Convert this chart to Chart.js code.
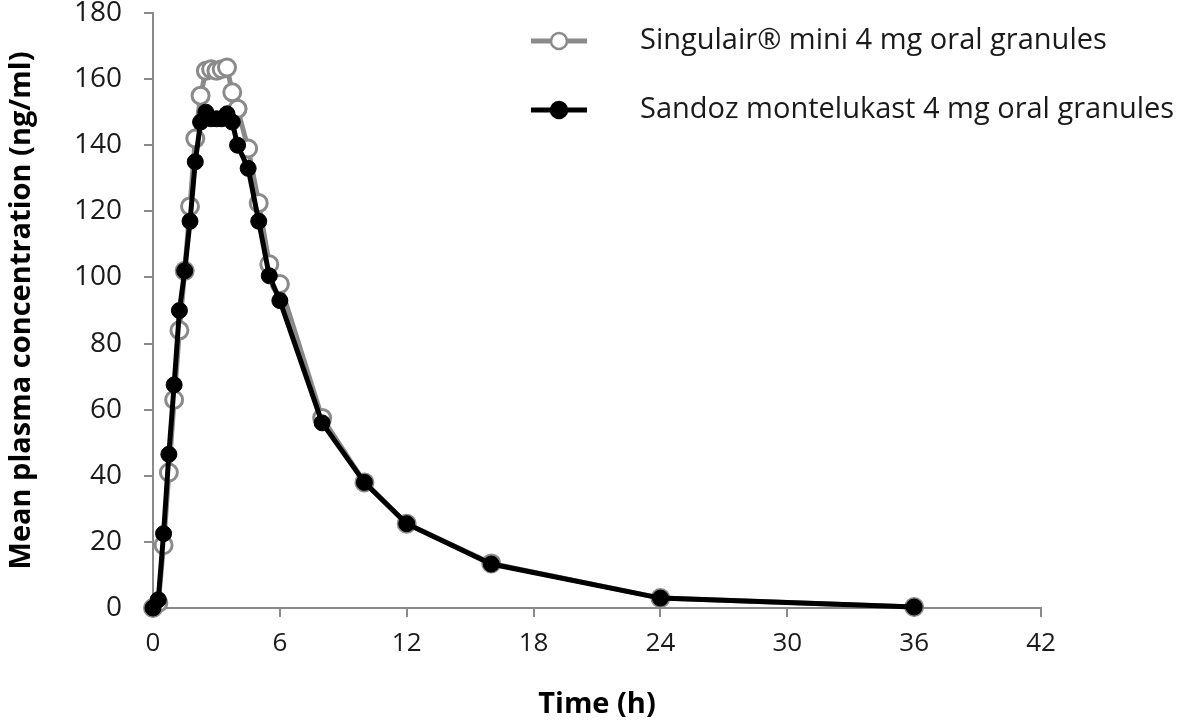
<!DOCTYPE html>
<html>
<head>
<meta charset="utf-8">
<script src="https://cdn.jsdelivr.net/npm/chart.js@4"></script>
<style>
  html, body { margin: 0; padding: 0; background: #fff; }
  #wrap { width: 1200px; height: 722px; position: relative; }
</style>
</head>
<body>
<div id="wrap"><canvas id="pkChart" width="1200" height="722"></canvas></div>
<script>
// sampling times (h)
const times = [0, 0.25, 0.5, 0.75, 1, 1.25, 1.5, 1.75, 2, 2.25, 2.5, 2.75, 3, 3.25, 3.5, 3.75, 4, 4.5, 5, 5.5, 6, 8, 10, 12, 16, 24, 36];

// mean plasma concentration (ng/ml)
const singulair = [0, 1.5, 19, 41, 63, 84, 102, 121.5, 142, 155, 162.5, 163, 162.5, 163, 163.5, 156, 151, 139, 122.5, 104, 98, 57.5, 38, 25.5, 13.5, 3, 0.3];
const sandoz = [0, 2.5, 22.5, 46.5, 67.5, 90, 102, 117, 135, 147, 150, 148, 148, 148, 149.5, 147, 140, 133, 117, 100.5, 93, 56, 38, 25.5, 13.3, 3, 0.3];

const seriesNames = ['Singulair\u00ae mini 4 mg oral granules', 'Sandoz montelukast 4 mg oral granules'];
const xTicks = [0, 6, 12, 18, 24, 30, 36, 42];
const yTicks = [0, 20, 40, 60, 80, 100, 120, 140, 160, 180];

const FONT = '"Open Sans", "DejaVu Sans", sans-serif';
const GREY = '#8a8a8a';

function toPoints(vals) {
    return times.map((t, i) => ({ x: t, y: vals[i] }));
}

// legend drawn on canvas in the upper right of the plot
const legendPlugin = {
    id: 'pkLegend',
    afterDraw(chart) {
        const ctx = chart.ctx;
        const rows = [
            { ds: chart.data.datasets[0], y: 41 },
            { ds: chart.data.datasets[1], y: 110 }
        ];
        ctx.save();
        rows.forEach(r => {
            ctx.strokeStyle = r.ds.borderColor;
            ctx.lineWidth = 5;
            ctx.beginPath();
            ctx.moveTo(531, r.y);
            ctx.lineTo(587, r.y);
            ctx.stroke();
            ctx.beginPath();
            ctx.arc(559, r.y, 8, 0, Math.PI * 2);
            ctx.fillStyle = r.ds.pointBackgroundColor;
            ctx.fill();
            ctx.lineWidth = 2.5;
            ctx.strokeStyle = r.ds.pointBorderColor;
            ctx.stroke();
            ctx.fillStyle = '#1a1a1a';
            ctx.font = '29px ' + FONT;
            ctx.textBaseline = 'middle';
            ctx.fillText(r.ds.label, 640, r.y);
        });
        ctx.restore();
    }
};

const ctx = document.getElementById('pkChart').getContext('2d');
new Chart(ctx, {
    type: 'line',
    data: {
        datasets: [
            {
                label: seriesNames[0],
                data: toPoints(singulair),
                borderColor: GREY,
                borderWidth: 5,
                pointRadius: 8.5,
                pointBorderWidth: 3,
                pointBackgroundColor: '#ffffff',
                pointBorderColor: GREY,
                clip: false,
                order: 2
            },
            {
                label: seriesNames[1],
                data: toPoints(sandoz),
                borderColor: '#000000',
                borderWidth: 5,
                pointRadius: 8,
                pointBorderWidth: 1,
                pointBackgroundColor: '#000000',
                pointBorderColor: '#000000',
                clip: false,
                order: 1
            }
        ]
    },
    options: {
        responsive: false,
        animation: false,
        layout: { padding: { top: 13, right: 159, left: 0, bottom: 0 } },
        plugins: { legend: { display: false }, tooltip: { enabled: false } },
        scales: {
            x: {
                type: 'linear',
                min: 0,
                max: 42,
                afterBuildTicks: s => { s.ticks = xTicks.map(v => ({ value: v })); },
                afterFit: s => { s.height = 114; s.paddingLeft = 0; s.paddingRight = 0; },
                grid: { drawOnChartArea: false, drawTicks: true, tickLength: 9, color: GREY, lineWidth: 2 },
                border: { color: GREY, width: 2 },
                ticks: { color: '#1a1a1a', font: { family: FONT, size: 26 }, padding: 11 },
                title: { display: true, text: 'Time (h)', color: '#000', font: { family: FONT, size: 29, weight: 'bold' }, padding: { top: 0, bottom: 0 } }
            },
            y: {
                min: 0,
                max: 180,
                afterBuildTicks: s => { s.ticks = yTicks.map(v => ({ value: v })); },
                afterFit: s => { s.width = 153; s.paddingTop = 0; s.paddingBottom = 0; },
                grid: { drawOnChartArea: false, drawTicks: true, tickLength: 9, color: GREY, lineWidth: 2 },
                border: { color: GREY, width: 2 },
                ticks: { color: '#1a1a1a', font: { family: FONT, size: 28 }, padding: 22 },
                title: { display: true, text: 'Mean plasma concentration (ng/ml)', color: '#000', font: { family: FONT, size: 29, weight: 'bold' }, padding: { bottom: 0 } }
            }
        }
    },
    plugins: [legendPlugin]
});
</script>
</body>
</html>
